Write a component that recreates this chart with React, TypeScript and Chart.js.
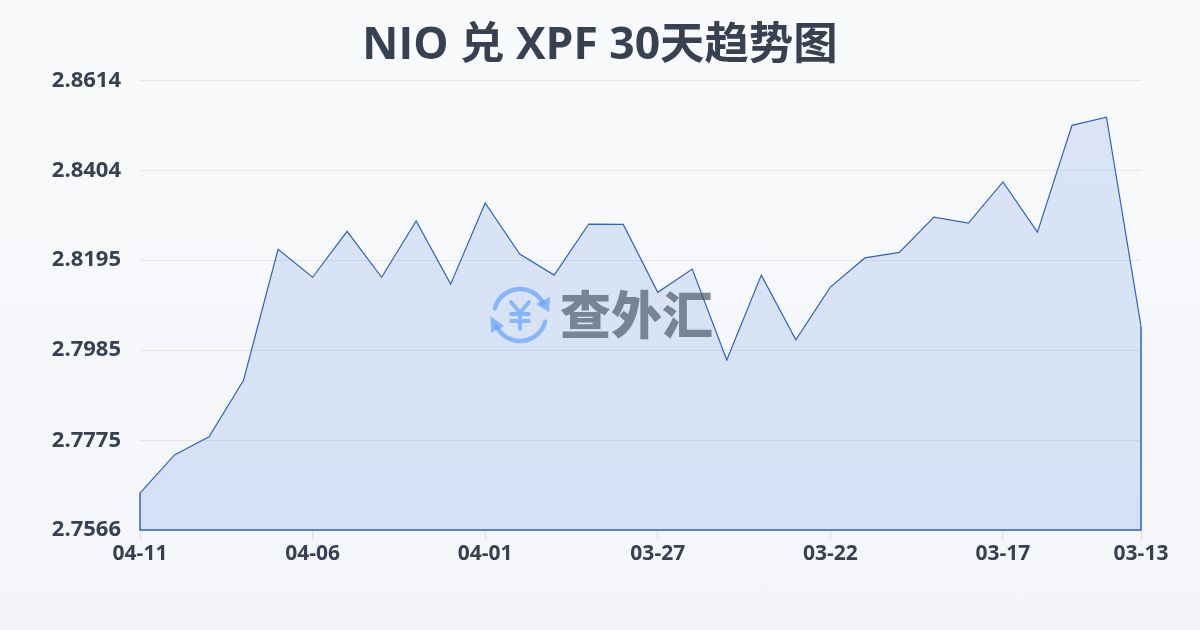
import React, { useEffect, useRef } from "react";
import { Chart, registerables } from "chart.js";

Chart.register(...registerables);

const TITLE = "NIO 兑 XPF 30天趋势图";
const WATERMARK = "查外汇";
const FONT = '"Open Sans", "Noto Sans CJK SC", sans-serif';
const MARK_FONT = '"Noto Sans CJK SC", "Noto Sans", sans-serif';

const categories = [
  "04-11", "04-10", "04-09", "04-08", "04-07", "04-06", "04-05", "04-04", "04-03", "04-02",
  "04-01", "03-31", "03-30", "03-29", "03-28", "03-27", "03-26", "03-25", "03-24", "03-23",
  "03-22", "03-21", "03-20", "03-19", "03-18", "03-17", "03-16", "03-15", "03-14", "03-13",
];
const rates = [
  2.7652, 2.7741, 2.7783, 2.7915, 2.822, 2.8155, 2.8262, 2.8155, 2.8286, 2.8139,
  2.8328, 2.8209, 2.816, 2.8279, 2.8278, 2.812, 2.8174, 2.7962, 2.816, 2.8009,
  2.8132, 2.82, 2.8213, 2.8295, 2.8281, 2.8377, 2.826, 2.8509, 2.8528, 2.8041,
];
const xTickIndexes = [0, 5, 10, 15, 20, 25, 29];
const yTicks = [2.7566, 2.7775, 2.7985, 2.8195, 2.8404, 2.8614];

const LINE = "#2f62c4";
const INK = "#374151";

const areaEdges = {
  id: "areaEdges",
  afterDatasetsDraw(chart: any) {
    const { ctx, chartArea: a } = chart;
    const pts = chart.getDatasetMeta(0).data;
    ctx.save();
    ctx.strokeStyle = LINE;
    ctx.lineWidth = 1.5;
    ctx.beginPath();
    ctx.moveTo(pts[0].x, pts[0].y);
    ctx.lineTo(pts[0].x, a.bottom);
    ctx.lineTo(pts[pts.length - 1].x, a.bottom);
    ctx.lineTo(pts[pts.length - 1].x, pts[pts.length - 1].y);
    ctx.stroke();
    ctx.restore();
  },
};

const watermark = {
  id: "watermark",
  afterDraw(chart: any) {
    const { ctx } = chart;
    const cx = 520;
    const cy = 315;
    const r = 26;
    ctx.save();
    ctx.strokeStyle = "rgba(96,160,250,0.68)";
    ctx.fillStyle = "rgba(96,160,250,0.68)";
    ctx.lineWidth = 4.5;
    ctx.lineCap = "round";
    ctx.beginPath();
    ctx.arc(cx, cy, r, (-165 * Math.PI) / 180, (-28 * Math.PI) / 180);
    ctx.stroke();
    ctx.beginPath();
    ctx.arc(cx, cy, r, (15 * Math.PI) / 180, (152 * Math.PI) / 180);
    ctx.stroke();
    ctx.beginPath();
    ctx.moveTo(550, 297);
    ctx.lineTo(549, 312);
    ctx.lineTo(536, 304);
    ctx.closePath();
    ctx.fill();
    ctx.beginPath();
    ctx.moveTo(490.5, 316);
    ctx.lineTo(504, 326);
    ctx.lineTo(491, 333);
    ctx.closePath();
    ctx.fill();
    ctx.lineWidth = 3.8;
    ctx.beginPath();
    ctx.moveTo(511, 302);
    ctx.lineTo(520, 313);
    ctx.lineTo(529, 302);
    ctx.moveTo(520, 313);
    ctx.lineTo(520, 329);
    ctx.moveTo(511, 314);
    ctx.lineTo(529, 314);
    ctx.moveTo(511, 321);
    ctx.lineTo(529, 321);
    ctx.stroke();
    ctx.fillStyle = "rgba(75,85,105,0.68)";
    ctx.font = `900 51px ${MARK_FONT}`;
    ctx.textAlign = "left";
    ctx.textBaseline = "middle";
    ctx.fillText(WATERMARK, 560, 315);
    ctx.restore();
  },
};

export default function App() {
  const ref = useRef<HTMLCanvasElement>(null);

  useEffect(() => {
    document.body.style.margin = "0";
    const chart = new Chart(ref.current!, {
      type: "line",
      data: {
        labels: categories,
        datasets: [
          {
            data: rates,
            borderColor: LINE,
            borderWidth: 1.2,
            backgroundColor: "rgba(59,115,222,0.155)",
            fill: "start",
            tension: 0,
            pointRadius: 0,
          },
        ],
      },
      plugins: [areaEdges, watermark],
      options: {
        animation: false,
        responsive: false,
        devicePixelRatio: 1,
        plugins: {
          legend: { display: false },
          tooltip: { enabled: false },
          title: {
            display: true,
            text: TITLE,
            color: INK,
            font: { family: FONT, size: 44.4, weight: "bold" },
            padding: { top: 20, bottom: 7 },
          },
        },
        scales: {
          x: {
            type: "category",
            offset: false,
            afterBuildTicks(scale: any) {
              scale.ticks = xTickIndexes.map((i) => ({ value: i, label: categories[i] }));
            },
            afterFit(scale: any) {
              scale.height = 100;
            },
            grid: {
              display: true,
              drawOnChartArea: false,
              drawTicks: true,
              tickLength: 10,
              color: "rgba(190,198,212,0.45)",
            },
            border: { display: false },
            ticks: {
              autoSkip: false,
              maxRotation: 0,
              padding: 1,
              color: INK,
              font: { family: FONT, size: 21, weight: "bold" },
              callback(this: any, v: any) {
                return categories[v];
              },
            },
          },
          y: {
            min: yTicks[0],
            max: yTicks[yTicks.length - 1],
            afterBuildTicks(scale: any) {
              scale.ticks = yTicks.map((value) => ({ value }));
            },
            afterFit(scale: any) {
              scale.width = 140;
            },
            grid: { color: "rgba(190,198,212,0.35)", lineWidth: 1, drawTicks: false },
            border: { display: false },
            ticks: {
              padding: 19,
              color: INK,
              font: { family: FONT, size: 22, weight: "bold" },
              callback: (v: any) => Number(v).toFixed(4),
            },
          },
          rightGutter: {
            type: "linear",
            position: "right",
            afterFit(scale: any) {
              scale.width = 59;
            },
            grid: { display: false },
            border: { display: false },
            ticks: { display: false },
          },
        },
      } as any,
    });
    return () => chart.destroy();
  }, []);

  return (
    <div
      style={{
        width: 1200,
        height: 630,
        background: "linear-gradient(180deg, #f9fafc 0%, #f3f5f8 100%)",
      }}
    >
      <canvas ref={ref} width={1200} height={630} style={{ display: "block" }} />
    </div>
  );
}
